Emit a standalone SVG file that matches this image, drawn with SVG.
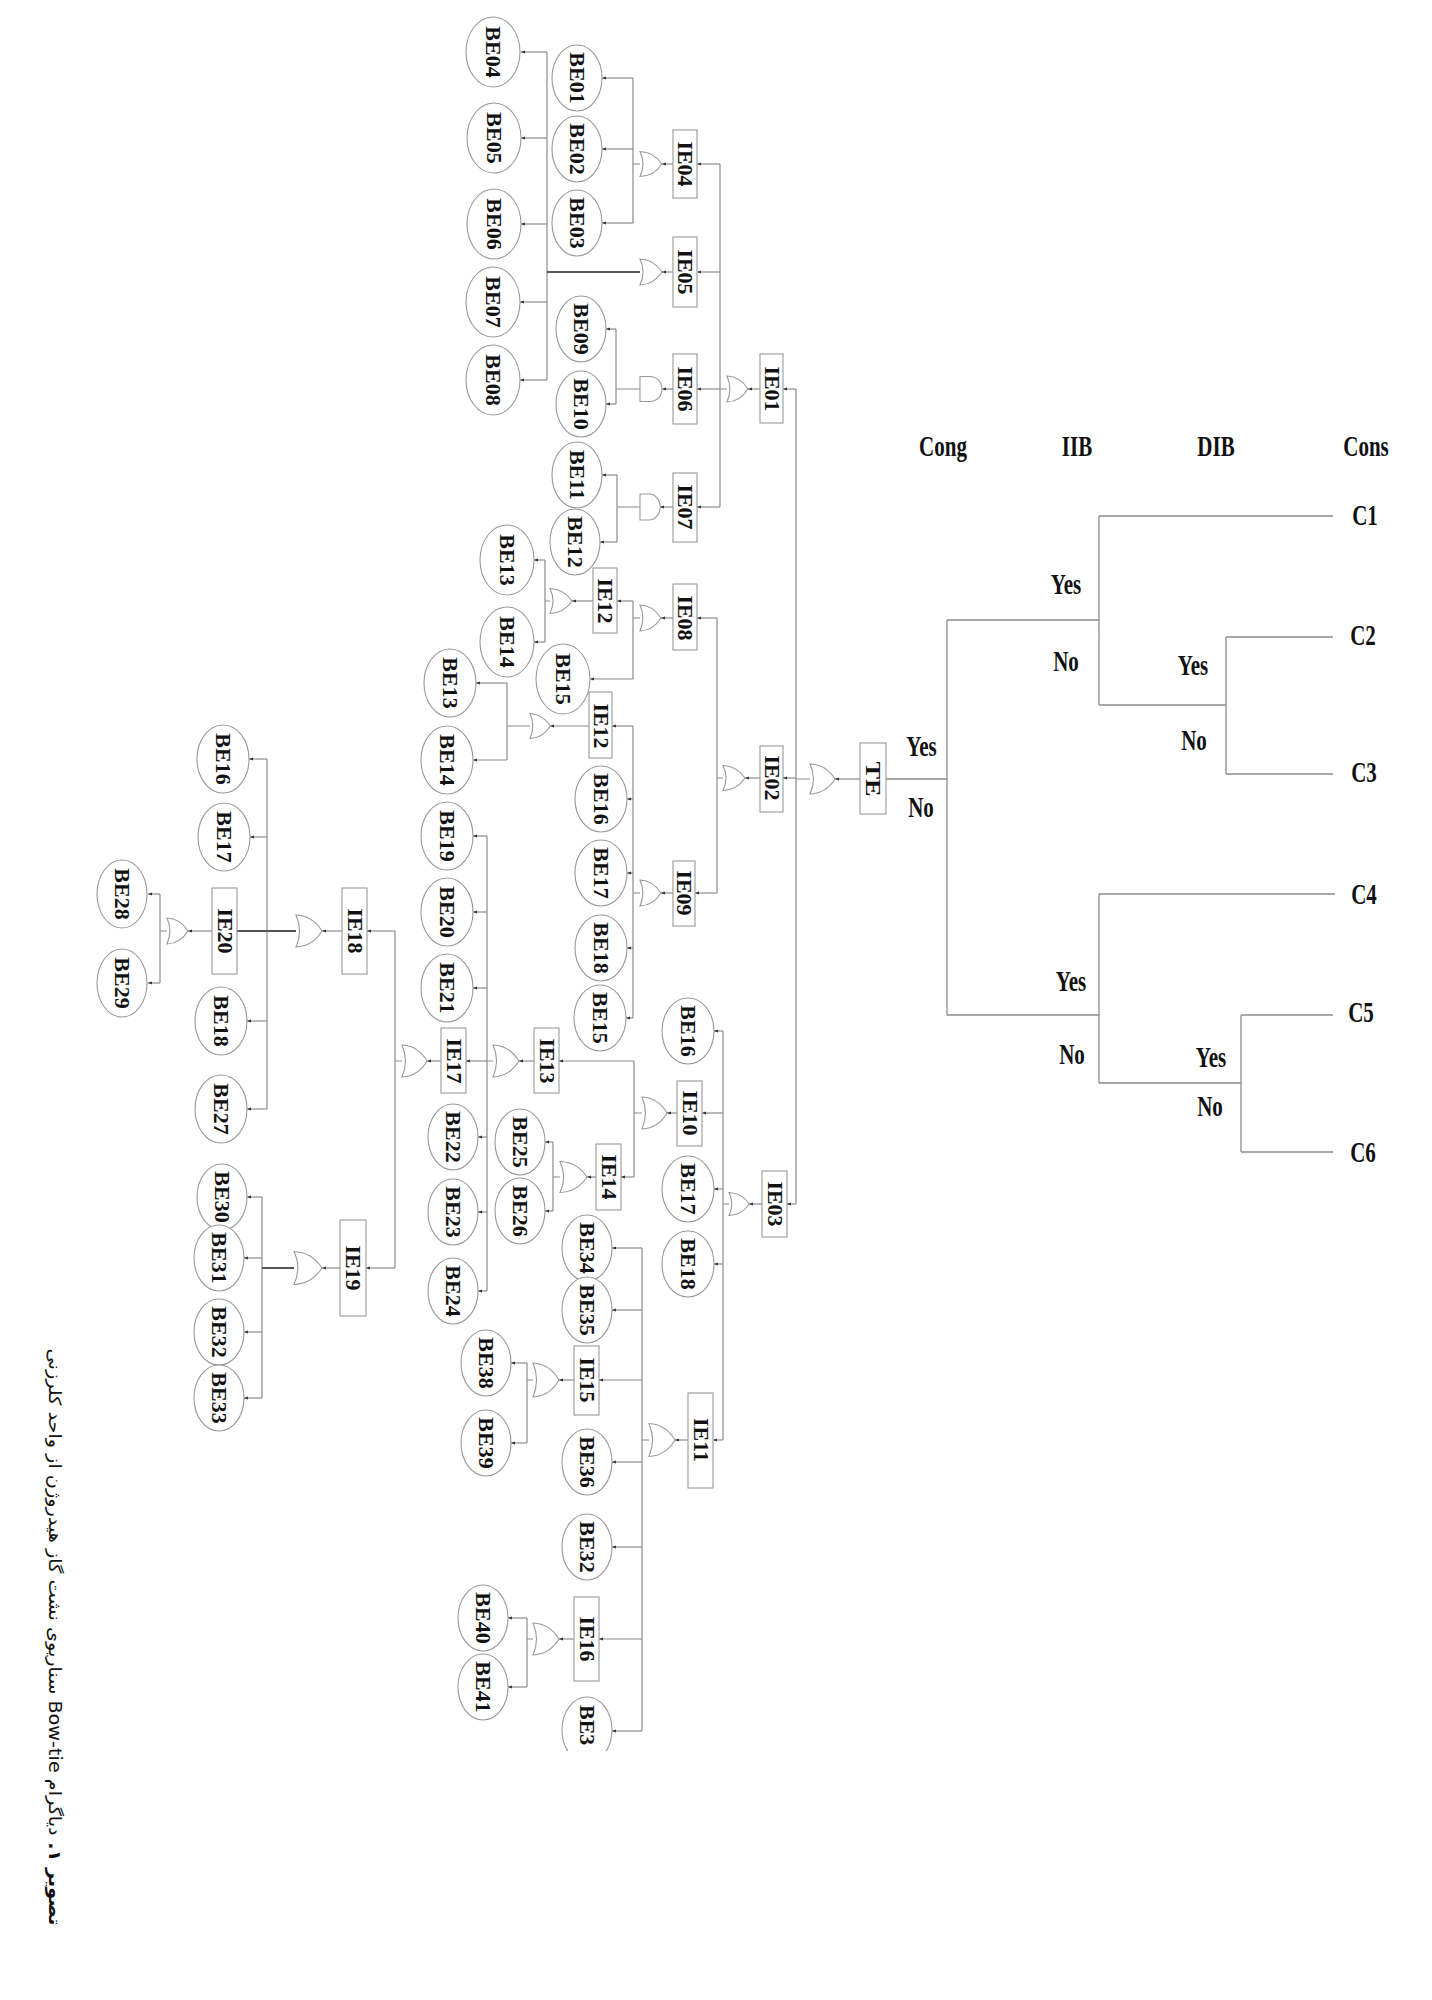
<svg xmlns="http://www.w3.org/2000/svg" xmlns:xlink="http://www.w3.org/1999/xlink" width="1432" height="2000" viewBox="0 0 1432 2000">
<style>
.ln{fill:none;stroke:#8c8c8c;stroke-width:1.2}
.ar{marker-end:url(#ah)}
.thk{stroke:#555;stroke-width:2}
.be{fill:#fff;stroke:#999;stroke-width:1.1}
.bx{fill:#fff;stroke:#999;stroke-width:1.1}
.lb{font-family:"Liberation Serif","Times New Roman",serif;font-weight:bold;font-size:20px;fill:#111}
.ht{font-family:"Liberation Serif","Times New Roman",serif;font-weight:bold;font-size:21px;fill:#111}
.et{fill:none;stroke:#8c8c8c;stroke-width:1.3}
</style>
<defs>
<marker id="ah" markerWidth="5" markerHeight="5" refX="4" refY="2" orient="auto" markerUnits="userSpaceOnUse"><path d="M0,0.6 L4,2 L0,3.4 Z" fill="#333"/></marker>
<path id="or" d="M0,-12.5 Q14,-12 22,0 Q14,12 0,12.5 Q6,0 0,-12.5 Z" fill="#fff" stroke="#999" stroke-width="1.1" vector-effect="non-scaling-stroke"/>
<path id="and" d="M0,-12.5 H10 A12 12.5 0 0 1 10,12.5 H0 Z" fill="#fff" stroke="#999" stroke-width="1.1" vector-effect="non-scaling-stroke"/>
<clipPath id="cut"><rect x="0" y="0" width="1432" height="1751"/></clipPath>
</defs>
<rect width="1432" height="2000" fill="#fff"/>

<g id="connectors">
<!-- top block -->
<path class="ln" d="M547,52 V380 M633,78 V223 M616,329 V404 M617,475 V542 M720,164 V507 M545,560 V642 M633,601 V679 M717,618 V893 M507,683 V760 M633,726 V1018 M796,389 V1204"/>
<path class="ln ar" d="M547,52 H521"/><path class="ln ar" d="M547,138 H521"/><path class="ln ar" d="M547,224 H521"/><path class="ln ar" d="M547,302 H520"/><path class="ln ar" d="M547,380 H520"/>
<path class="ln thk" d="M547,272 H640"/>
<path class="ln ar" d="M633,78 H602"/><path class="ln ar" d="M633,149 H602"/><path class="ln ar" d="M633,223 H602"/>
<path class="ln" d="M633,164 H640 M616,389 H640 M617,507 H640 M720,389 H727 M545,601 H550 M633,618 H640 M717,778 H723 M507,726 H530 M633,893 H640 M796,779 H810"/>
<path class="ln ar" d="M673,164 H662"/><path class="ln ar" d="M720,164 H697"/>
<path class="ln ar" d="M673,272 H662"/><path class="ln ar" d="M720,272 H697"/>
<path class="ln ar" d="M616,329 H606"/><path class="ln ar" d="M616,404 H606"/>
<path class="ln ar" d="M673,389 H662"/><path class="ln ar" d="M720,389 H697"/>
<path class="ln ar" d="M760,389 H748"/><path class="ln ar" d="M796,389 H783"/>
<path class="ln ar" d="M617,475 H602"/><path class="ln ar" d="M617,542 H600"/>
<path class="ln ar" d="M673,507 H660"/><path class="ln ar" d="M720,507 H697"/>
<path class="ln ar" d="M545,560 H534"/><path class="ln ar" d="M545,642 H534"/>
<path class="ln ar" d="M593,601 H572"/><path class="ln ar" d="M633,601 H617"/>
<path class="ln ar" d="M633,679 H590"/>
<path class="ln ar" d="M673,618 H661"/><path class="ln ar" d="M717,618 H697"/>
<path class="ln ar" d="M507,683 H476"/><path class="ln ar" d="M507,760 H473"/>
<path class="ln ar" d="M589,726 H550"/><path class="ln ar" d="M633,726 H612"/>
<path class="ln ar" d="M633,799 H627"/><path class="ln ar" d="M633,873 H627"/><path class="ln ar" d="M633,948 H627"/><path class="ln ar" d="M633,1018 H626"/>
<path class="ln ar" d="M673,893 H661"/><path class="ln ar" d="M717,893 H695"/>
<path class="ln ar" d="M760,778 H745"/><path class="ln ar" d="M796,778 H783"/>
<path class="ln ar" d="M860,779 H835"/>
<!-- IE03 block -->
<path class="ln" d="M723,1031 V1440 M634,1061 V1177 M553,1142 V1211 M487,836 V1291 M395,931 V1268 M267,759 V1109 M160,894 V983 M262,1197 V1398 M642,1248 V1731 M527,1363 V1443 M527,1618 V1687"/>
<path class="ln" d="M723,1204 H729 M634,1113 H642 M553,1177 H560 M487,1061 H493 M395,1061 H402 M160,931 H167 M642,1440 H649 M527,1380 H533 M527,1639 H533"/>
<path class="ln thk" d="M237,931 H296 M262,1268 H294"/>
<path class="ln ar" d="M762,1204 H749"/><path class="ln ar" d="M796,1204 H787"/>
<path class="ln ar" d="M723,1031 H714"/><path class="ln ar" d="M723,1189 H714"/><path class="ln ar" d="M723,1264 H714"/>
<path class="ln ar" d="M723,1113 H702"/><path class="ln ar" d="M723,1440 H713"/>
<path class="ln ar" d="M677,1113 H667"/>
<path class="ln ar" d="M634,1061 H559"/><path class="ln ar" d="M634,1177 H621"/>
<path class="ln ar" d="M596,1177 H587"/>
<path class="ln ar" d="M553,1142 H545"/><path class="ln ar" d="M553,1211 H545"/>
<path class="ln ar" d="M534,1061 H519"/>
<path class="ln ar" d="M487,836 H473"/><path class="ln ar" d="M487,912 H473"/><path class="ln ar" d="M487,988 H473"/>
<path class="ln ar" d="M487,1137 H478"/><path class="ln ar" d="M487,1212 H478"/><path class="ln ar" d="M487,1291 H478"/>
<path class="ln ar" d="M487,1061 H466"/>
<path class="ln ar" d="M441,1061 H427"/>
<path class="ln ar" d="M395,931 H367"/><path class="ln ar" d="M395,1268 H366"/>
<path class="ln ar" d="M342,931 H322"/>
<path class="ln ar" d="M267,759 H249"/><path class="ln ar" d="M267,837 H250"/><path class="ln ar" d="M267,1021 H247"/><path class="ln ar" d="M267,1109 H247"/>
<path class="ln ar" d="M212,931 H188"/>
<path class="ln ar" d="M160,894 H148"/><path class="ln ar" d="M160,983 H148"/>
<path class="ln ar" d="M340,1268 H322"/>
<path class="ln ar" d="M262,1197 H247"/><path class="ln ar" d="M262,1258 H244"/><path class="ln ar" d="M262,1332 H244"/><path class="ln ar" d="M262,1398 H244"/>
<path class="ln ar" d="M688,1440 H675"/>
<path class="ln ar" d="M642,1248 H612"/><path class="ln ar" d="M642,1310 H612"/><path class="ln ar" d="M642,1462 H612"/><path class="ln ar" d="M642,1547 H612"/><path class="ln ar" d="M642,1731 H612"/>
<path class="ln ar" d="M642,1380 H599"/><path class="ln ar" d="M642,1639 H599"/>
<path class="ln ar" d="M574,1380 H559"/><path class="ln ar" d="M574,1639 H559"/>
<path class="ln ar" d="M527,1363 H511"/><path class="ln ar" d="M527,1443 H511"/>
<path class="ln ar" d="M527,1618 H508"/><path class="ln ar" d="M527,1687 H508"/>
<!-- event tree -->
<path class="et" d="M886,779 H947 M947,620 V1015 M947,620 H1099 M1099,516 V705 M1099,516 H1333 M1099,705 H1226 M1226,637 V774 M1226,637 H1333 M1226,774 H1333 M947,1015 H1099 M1099,894 V1083 M1099,894 H1335 M1099,1083 H1241 M1241,1015 V1152 M1241,1015 H1333 M1241,1152 H1333"/>
</g>

<!-- basic events -->
<g id="BE04"><ellipse class="be" cx="493" cy="52" rx="27" ry="35"/><text class="lb" text-anchor="middle" transform="translate(486.4,52) rotate(90) scale(1.1,1)">BE04</text></g>
<g id="BE05"><ellipse class="be" cx="494" cy="138" rx="27" ry="35"/><text class="lb" text-anchor="middle" transform="translate(487.4,138) rotate(90) scale(1.1,1)">BE05</text></g>
<g id="BE06"><ellipse class="be" cx="494" cy="224" rx="27" ry="35"/><text class="lb" text-anchor="middle" transform="translate(487.4,224) rotate(90) scale(1.1,1)">BE06</text></g>
<g id="BE07"><ellipse class="be" cx="493" cy="302" rx="27" ry="35"/><text class="lb" text-anchor="middle" transform="translate(486.4,302) rotate(90) scale(1.1,1)">BE07</text></g>
<g id="BE08"><ellipse class="be" cx="493" cy="380" rx="27" ry="35"/><text class="lb" text-anchor="middle" transform="translate(486.4,380) rotate(90) scale(1.1,1)">BE08</text></g>
<g id="BE01"><ellipse class="be" cx="577" cy="78" rx="25" ry="33"/><text class="lb" text-anchor="middle" transform="translate(570.4,78) rotate(90) scale(1.1,1)">BE01</text></g>
<g id="BE02"><ellipse class="be" cx="577" cy="149" rx="25" ry="33"/><text class="lb" text-anchor="middle" transform="translate(570.4,149) rotate(90) scale(1.1,1)">BE02</text></g>
<g id="BE03"><ellipse class="be" cx="577" cy="223" rx="25" ry="33"/><text class="lb" text-anchor="middle" transform="translate(570.4,223) rotate(90) scale(1.1,1)">BE03</text></g>
<g id="BE09"><ellipse class="be" cx="581" cy="329" rx="25" ry="33"/><text class="lb" text-anchor="middle" transform="translate(574.4,329) rotate(90) scale(1.1,1)">BE09</text></g>
<g id="BE10"><ellipse class="be" cx="581" cy="404" rx="25" ry="33"/><text class="lb" text-anchor="middle" transform="translate(574.4,404) rotate(90) scale(1.1,1)">BE10</text></g>
<g id="BE11"><ellipse class="be" cx="577" cy="475" rx="25" ry="33"/><text class="lb" text-anchor="middle" transform="translate(570.4,475) rotate(90) scale(1.1,1)">BE11</text></g>
<g id="BE12"><ellipse class="be" cx="575" cy="542" rx="25" ry="33"/><text class="lb" text-anchor="middle" transform="translate(568.4,542) rotate(90) scale(1.1,1)">BE12</text></g>
<g id="BE13-a"><ellipse class="be" cx="507" cy="560" rx="27" ry="35"/><text class="lb" text-anchor="middle" transform="translate(500.4,560) rotate(90) scale(1.1,1)">BE13</text></g>
<g id="BE14-a"><ellipse class="be" cx="507" cy="642" rx="27" ry="35"/><text class="lb" text-anchor="middle" transform="translate(500.4,642) rotate(90) scale(1.1,1)">BE14</text></g>
<g id="BE15-a"><ellipse class="be" cx="563" cy="679" rx="27" ry="35"/><text class="lb" text-anchor="middle" transform="translate(556.4,679) rotate(90) scale(1.1,1)">BE15</text></g>
<g id="BE13-b"><ellipse class="be" cx="450" cy="683" rx="26" ry="34"/><text class="lb" text-anchor="middle" transform="translate(443.4,683) rotate(90) scale(1.1,1)">BE13</text></g>
<g id="BE14-b"><ellipse class="be" cx="447" cy="760" rx="26" ry="34"/><text class="lb" text-anchor="middle" transform="translate(440.4,760) rotate(90) scale(1.1,1)">BE14</text></g>
<g id="BE16-a"><ellipse class="be" cx="601" cy="799" rx="26" ry="33"/><text class="lb" text-anchor="middle" transform="translate(594.4,799) rotate(90) scale(1.1,1)">BE16</text></g>
<g id="BE17-a"><ellipse class="be" cx="601" cy="873" rx="26" ry="33"/><text class="lb" text-anchor="middle" transform="translate(594.4,873) rotate(90) scale(1.1,1)">BE17</text></g>
<g id="BE18-a"><ellipse class="be" cx="601" cy="948" rx="26" ry="33"/><text class="lb" text-anchor="middle" transform="translate(594.4,948) rotate(90) scale(1.1,1)">BE18</text></g>
<g id="BE15-b"><ellipse class="be" cx="600" cy="1018" rx="26" ry="33"/><text class="lb" text-anchor="middle" transform="translate(593.4,1018) rotate(90) scale(1.1,1)">BE15</text></g>
<g id="BE16-b"><ellipse class="be" cx="688" cy="1031" rx="26" ry="33"/><text class="lb" text-anchor="middle" transform="translate(681.4,1031) rotate(90) scale(1.1,1)">BE16</text></g>
<g id="BE17-b"><ellipse class="be" cx="688" cy="1189" rx="26" ry="33"/><text class="lb" text-anchor="middle" transform="translate(681.4,1189) rotate(90) scale(1.1,1)">BE17</text></g>
<g id="BE18-b"><ellipse class="be" cx="688" cy="1264" rx="26" ry="33"/><text class="lb" text-anchor="middle" transform="translate(681.4,1264) rotate(90) scale(1.1,1)">BE18</text></g>
<g id="BE25"><ellipse class="be" cx="520" cy="1142" rx="25" ry="33"/><text class="lb" text-anchor="middle" transform="translate(513.4,1142) rotate(90) scale(1.1,1)">BE25</text></g>
<g id="BE26"><ellipse class="be" cx="520" cy="1211" rx="25" ry="33"/><text class="lb" text-anchor="middle" transform="translate(513.4,1211) rotate(90) scale(1.1,1)">BE26</text></g>
<g id="BE19"><ellipse class="be" cx="447" cy="836" rx="26" ry="34"/><text class="lb" text-anchor="middle" transform="translate(440.4,836) rotate(90) scale(1.1,1)">BE19</text></g>
<g id="BE20"><ellipse class="be" cx="447" cy="912" rx="26" ry="34"/><text class="lb" text-anchor="middle" transform="translate(440.4,912) rotate(90) scale(1.1,1)">BE20</text></g>
<g id="BE21"><ellipse class="be" cx="447" cy="988" rx="26" ry="34"/><text class="lb" text-anchor="middle" transform="translate(440.4,988) rotate(90) scale(1.1,1)">BE21</text></g>
<g id="BE22"><ellipse class="be" cx="453" cy="1137" rx="25" ry="33"/><text class="lb" text-anchor="middle" transform="translate(446.4,1137) rotate(90) scale(1.1,1)">BE22</text></g>
<g id="BE23"><ellipse class="be" cx="453" cy="1212" rx="25" ry="33"/><text class="lb" text-anchor="middle" transform="translate(446.4,1212) rotate(90) scale(1.1,1)">BE23</text></g>
<g id="BE24"><ellipse class="be" cx="453" cy="1291" rx="25" ry="33"/><text class="lb" text-anchor="middle" transform="translate(446.4,1291) rotate(90) scale(1.1,1)">BE24</text></g>
<g id="BE16-c"><ellipse class="be" cx="223" cy="759" rx="26" ry="34"/><text class="lb" text-anchor="middle" transform="translate(216.4,759) rotate(90) scale(1.1,1)">BE16</text></g>
<g id="BE17-c"><ellipse class="be" cx="224" cy="837" rx="26" ry="34"/><text class="lb" text-anchor="middle" transform="translate(217.4,837) rotate(90) scale(1.1,1)">BE17</text></g>
<g id="BE18-c"><ellipse class="be" cx="221" cy="1021" rx="26" ry="34"/><text class="lb" text-anchor="middle" transform="translate(214.4,1021) rotate(90) scale(1.1,1)">BE18</text></g>
<g id="BE27"><ellipse class="be" cx="221" cy="1109" rx="26" ry="34"/><text class="lb" text-anchor="middle" transform="translate(214.4,1109) rotate(90) scale(1.1,1)">BE27</text></g>
<g id="BE28"><ellipse class="be" cx="122" cy="894" rx="25" ry="34"/><text class="lb" text-anchor="middle" transform="translate(115.4,894) rotate(90) scale(1.1,1)">BE28</text></g>
<g id="BE29"><ellipse class="be" cx="122" cy="983" rx="25" ry="34"/><text class="lb" text-anchor="middle" transform="translate(115.4,983) rotate(90) scale(1.1,1)">BE29</text></g>
<g id="BE30"><ellipse class="be" cx="222" cy="1197" rx="25" ry="33"/><text class="lb" text-anchor="middle" transform="translate(215.4,1197) rotate(90) scale(1.1,1)">BE30</text></g>
<g id="BE31"><ellipse class="be" cx="219" cy="1258" rx="25" ry="33"/><text class="lb" text-anchor="middle" transform="translate(212.4,1258) rotate(90) scale(1.1,1)">BE31</text></g>
<g id="BE32-a"><ellipse class="be" cx="219" cy="1332" rx="25" ry="33"/><text class="lb" text-anchor="middle" transform="translate(212.4,1332) rotate(90) scale(1.1,1)">BE32</text></g>
<g id="BE33"><ellipse class="be" cx="219" cy="1398" rx="25" ry="33"/><text class="lb" text-anchor="middle" transform="translate(212.4,1398) rotate(90) scale(1.1,1)">BE33</text></g>
<g id="BE34"><ellipse class="be" cx="587" cy="1248" rx="25" ry="33"/><text class="lb" text-anchor="middle" transform="translate(580.4,1248) rotate(90) scale(1.1,1)">BE34</text></g>
<g id="BE35"><ellipse class="be" cx="587" cy="1310" rx="25" ry="33"/><text class="lb" text-anchor="middle" transform="translate(580.4,1310) rotate(90) scale(1.1,1)">BE35</text></g>
<g id="BE36"><ellipse class="be" cx="587" cy="1462" rx="25" ry="33"/><text class="lb" text-anchor="middle" transform="translate(580.4,1462) rotate(90) scale(1.1,1)">BE36</text></g>
<g id="BE32-b"><ellipse class="be" cx="587" cy="1547" rx="25" ry="33"/><text class="lb" text-anchor="middle" transform="translate(580.4,1547) rotate(90) scale(1.1,1)">BE32</text></g>
<g id="BE37" clip-path="url(#cut)"><ellipse class="be" cx="587" cy="1730" rx="25" ry="33"/><text class="lb" text-anchor="start" transform="translate(580.4,1705) rotate(90) scale(1.1,1)">BE3</text></g>
<g id="BE38"><ellipse class="be" cx="486" cy="1363" rx="25" ry="33"/><text class="lb" text-anchor="middle" transform="translate(479.4,1363) rotate(90) scale(1.1,1)">BE38</text></g>
<g id="BE39"><ellipse class="be" cx="486" cy="1443" rx="25" ry="33"/><text class="lb" text-anchor="middle" transform="translate(479.4,1443) rotate(90) scale(1.1,1)">BE39</text></g>
<g id="BE40"><ellipse class="be" cx="483" cy="1618" rx="25" ry="33"/><text class="lb" text-anchor="middle" transform="translate(476.4,1618) rotate(90) scale(1.1,1)">BE40</text></g>
<g id="BE41"><ellipse class="be" cx="483" cy="1687" rx="25" ry="33"/><text class="lb" text-anchor="middle" transform="translate(476.4,1687) rotate(90) scale(1.1,1)">BE41</text></g>

<!-- intermediate events with gates -->
<g id="IE04"><use xlink:href="#or" href="#or" transform="translate(640,164) scale(1,1)"/><rect class="bx" x="673" y="130" width="24" height="68"/><text class="lb" text-anchor="middle" transform="translate(678.4,164) rotate(90) scale(1.1,1)">IE04</text></g>
<g id="IE05"><use xlink:href="#or" href="#or" transform="translate(640,272) scale(1,1.04)"/><rect class="bx" x="673" y="237" width="24" height="70"/><text class="lb" text-anchor="middle" transform="translate(678.4,272) rotate(90) scale(1.1,1)">IE05</text></g>
<g id="IE06"><use xlink:href="#and" href="#and" transform="translate(640,389) scale(1,1)"/><rect class="bx" x="673" y="354" width="24" height="70"/><text class="lb" text-anchor="middle" transform="translate(678.4,389) rotate(90) scale(1.1,1)">IE06</text></g>
<g id="IE01"><use xlink:href="#or" href="#or" transform="translate(727,389) scale(0.95,1.04)"/><rect class="bx" x="760" y="354" width="23" height="69"/><text class="lb" text-anchor="middle" transform="translate(765.0,389) rotate(90) scale(1.1,1)">IE01</text></g>
<g id="IE07"><use xlink:href="#and" href="#and" transform="translate(640,507) scale(0.92,1.04)"/><rect class="bx" x="673" y="473" width="24" height="69"/><text class="lb" text-anchor="middle" transform="translate(678.4,507) rotate(90) scale(1.1,1)">IE07</text></g>
<g id="IE12-a"><use xlink:href="#or" href="#or" transform="translate(550,601) scale(1,1)"/><rect class="bx" x="593" y="568" width="24" height="65"/><text class="lb" text-anchor="middle" transform="translate(598.4,601) rotate(90) scale(1.1,1)">IE12</text></g>
<g id="IE08"><use xlink:href="#or" href="#or" transform="translate(640,618) scale(0.95,1.04)"/><rect class="bx" x="673" y="584" width="24" height="66"/><text class="lb" text-anchor="middle" transform="translate(678.4,618) rotate(90) scale(1.1,1)">IE08</text></g>
<g id="IE12-b"><use xlink:href="#or" href="#or" transform="translate(530,726) scale(0.92,1)"/><rect class="bx" x="589" y="692" width="23" height="66"/><text class="lb" text-anchor="middle" transform="translate(593.9,726) rotate(90) scale(1.1,1)">IE12</text></g>
<g id="IE09"><use xlink:href="#or" href="#or" transform="translate(640,893) scale(0.95,1.04)"/><rect class="bx" x="673" y="861" width="22" height="65"/><text class="lb" text-anchor="middle" transform="translate(677.4,893) rotate(90) scale(1.1,1)">IE09</text></g>
<g id="IE02"><use xlink:href="#or" href="#or" transform="translate(723,778) scale(1,1)"/><rect class="bx" x="760" y="746" width="23" height="66"/><text class="lb" text-anchor="middle" transform="translate(765.0,778) rotate(90) scale(1.1,1)">IE02</text></g>
<g id="TE"><use xlink:href="#or" href="#or" transform="translate(810,779) scale(1.14,1.2)"/><rect class="bx" x="860" y="743" width="26" height="71"/><text class="lb" text-anchor="middle" style="font-size:22px" transform="translate(865.7,779) rotate(90) scale(1.2,1)">TE</text></g>
<g id="IE03"><use xlink:href="#or" href="#or" transform="translate(729,1204) scale(0.92,0.92)"/><rect class="bx" x="762" y="1171" width="25" height="66"/><text class="lb" text-anchor="middle" transform="translate(768.0,1204) rotate(90) scale(1.1,1)">IE03</text></g>
<g id="IE10"><use xlink:href="#or" href="#or" transform="translate(642,1113) scale(1.14,1.28)"/><rect class="bx" x="677" y="1081" width="25" height="65"/><text class="lb" text-anchor="middle" transform="translate(683.0,1113) rotate(90) scale(1.1,1)">IE10</text></g>
<g id="IE14"><use xlink:href="#or" href="#or" transform="translate(560,1177) scale(1.23,1.24)"/><rect class="bx" x="596" y="1144" width="25" height="66"/><text class="lb" text-anchor="middle" transform="translate(602.0,1177) rotate(90) scale(1.1,1)">IE14</text></g>
<g id="IE13"><use xlink:href="#or" href="#or" transform="translate(493,1061) scale(1.18,1.28)"/><rect class="bx" x="534" y="1028" width="25" height="65"/><text class="lb" text-anchor="middle" transform="translate(540.0,1061) rotate(90) scale(1.1,1)">IE13</text></g>
<g id="IE17"><use xlink:href="#or" href="#or" transform="translate(402,1061) scale(1.14,1.28)"/><rect class="bx" x="441" y="1028" width="25" height="65"/><text class="lb" text-anchor="middle" transform="translate(447.0,1061) rotate(90) scale(1.1,1)">IE17</text></g>
<g id="IE18"><use xlink:href="#or" href="#or" transform="translate(296,931) scale(1.18,1.28)"/><rect class="bx" x="342" y="888" width="25" height="86"/><text class="lb" text-anchor="middle" transform="translate(348.0,931) rotate(90) scale(1.1,1)">IE18</text></g>
<g id="IE20"><use xlink:href="#or" href="#or" transform="translate(167,931) scale(0.95,1.04)"/><rect class="bx" x="212" y="888" width="25" height="86"/><text class="lb" text-anchor="middle" transform="translate(218.0,931) rotate(90) scale(1.1,1)">IE20</text></g>
<g id="IE19"><use xlink:href="#or" href="#or" transform="translate(294,1268) scale(1.27,1.32)"/><rect class="bx" x="340" y="1220" width="26" height="96"/><text class="lb" text-anchor="middle" transform="translate(346.4,1268) rotate(90) scale(1.1,1)">IE19</text></g>
<g id="IE11"><use xlink:href="#or" href="#or" transform="translate(649,1440) scale(1.18,1.32)"/><rect class="bx" x="688" y="1393" width="25" height="95"/><text class="lb" text-anchor="middle" transform="translate(694.0,1440) rotate(90) scale(1.1,1)">IE11</text></g>
<g id="IE15"><use xlink:href="#or" href="#or" transform="translate(533,1380) scale(1.18,1.36)"/><rect class="bx" x="574" y="1346" width="25" height="69"/><text class="lb" text-anchor="middle" transform="translate(580.0,1380) rotate(90) scale(1.1,1)">IE15</text></g>
<g id="IE16"><use xlink:href="#or" href="#or" transform="translate(533,1639) scale(1.18,1.28)"/><rect class="bx" x="574" y="1597" width="25" height="84"/><text class="lb" text-anchor="middle" transform="translate(580.0,1639) rotate(90) scale(1.1,1)">IE16</text></g>

<!-- event tree labels -->
<g id="headers">
<text class="ht" text-anchor="middle" transform="translate(943,456) scale(1,1.4)">Cong</text>
<text class="ht" text-anchor="middle" transform="translate(1077,456) scale(1,1.4)">IIB</text>
<text class="ht" text-anchor="middle" transform="translate(1216,456) scale(1,1.4)">DIB</text>
<text class="ht" text-anchor="middle" transform="translate(1366,456) scale(1,1.4)">Cons</text>
</g>
<g id="branch-labels">
<text class="ht" text-anchor="middle" transform="translate(921.5,756) scale(1,1.4)">Yes</text>
<text class="ht" text-anchor="middle" transform="translate(921,817) scale(1,1.4)">No</text>
<text class="ht" text-anchor="middle" transform="translate(1066,594) scale(1,1.4)">Yes</text>
<text class="ht" text-anchor="middle" transform="translate(1066,671) scale(1,1.4)">No</text>
<text class="ht" text-anchor="middle" transform="translate(1193,675) scale(1,1.4)">Yes</text>
<text class="ht" text-anchor="middle" transform="translate(1194,750) scale(1,1.4)">No</text>
<text class="ht" text-anchor="middle" transform="translate(1071,991) scale(1,1.4)">Yes</text>
<text class="ht" text-anchor="middle" transform="translate(1072,1064) scale(1,1.4)">No</text>
<text class="ht" text-anchor="middle" transform="translate(1211,1067) scale(1,1.4)">Yes</text>
<text class="ht" text-anchor="middle" transform="translate(1210,1116) scale(1,1.4)">No</text>
</g>
<g id="C1"><text class="ht" text-anchor="middle" transform="translate(1365,525) scale(1,1.4)">C1</text></g>
<g id="C2"><text class="ht" text-anchor="middle" transform="translate(1363,645) scale(1,1.4)">C2</text></g>
<g id="C3"><text class="ht" text-anchor="middle" transform="translate(1364,782) scale(1,1.4)">C3</text></g>
<g id="C4"><text class="ht" text-anchor="middle" transform="translate(1364,904) scale(1,1.4)">C4</text></g>
<g id="C5"><text class="ht" text-anchor="middle" transform="translate(1361,1022) scale(1,1.4)">C5</text></g>
<g id="C6"><text class="ht" text-anchor="middle" transform="translate(1363,1162) scale(1,1.4)">C6</text></g>

<g id="caption">
<text transform="translate(49,1637) rotate(90)" text-anchor="middle" direction="rtl" font-family="'DejaVu Sans','Noto Sans',sans-serif" font-size="17" fill="#111" textLength="577" lengthAdjust="spacingAndGlyphs"><tspan font-weight="bold">تصویر ۱. </tspan>دیاگرام Bow-tie سناریوی نشت گاز هیدروژن از واحد کلرزنی</text>
</g>
</svg>
